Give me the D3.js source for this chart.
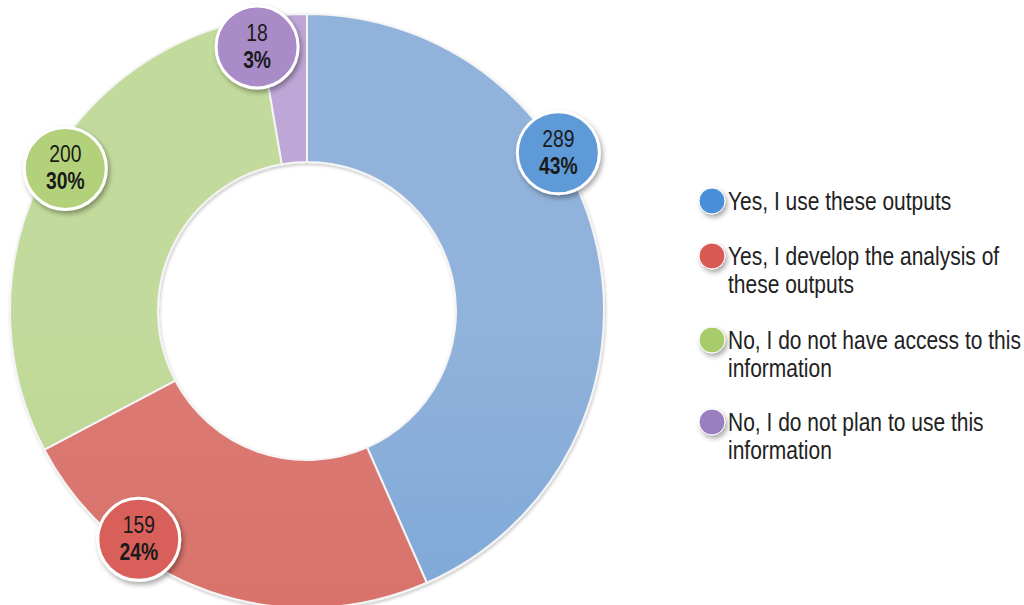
<!DOCTYPE html>
<html>
<head>
<meta charset="utf-8">
<script src="https://cdn.jsdelivr.net/npm/d3@7"></script>
<style>
  body { margin: 0; background: #fff; }
  text { font-family: "Liberation Sans", Arial, sans-serif; }
</style>
</head>
<body>
<div class="chart"></div>
<script>
const categories = [
    "Yes, I use these outputs",
    "Yes, I develop the analysis of these outputs",
    "No, I do not have access to this information",
    "No, I do not plan to use this information"
];
const legendLines = [
    ["Yes, I use these outputs"],
    ["Yes, I develop the analysis of", "these outputs"],
    ["No, I do not have access to this", "information"],
    ["No, I do not plan to use this", "information"]
];
const counts = [289, 159, 200, 18];
const percents = ["43%", "24%", "30%", "3%"];

const colors = ["#5f9ad8", "#d9605a", "#b3d17a", "#a98bc7"];
const sliceTop = ["#91b2da", "#dc7b74", "#c2da9b", "#bea6d6"];
const sliceBottom = ["#6a9fd8", "#d46961", "#b3d085", "#b39ad0"];
const legendColors = ["#4a8fd8", "#d95a55", "#a9cc6a", "#9a7fc0"];
// where each bubble sits along its slice (fraction of slice, fraction of outer radius)
const bubbleAt = [[0.37, 1.0], [0.70, 0.955], [0.54, 0.945], [-0.1, 0.905]];

const width = 1024, height = 605;
const cx = 307, cy = 311, outerR = 297, innerR = 149;
const narrow = 0.84;

const svg = d3.select(".chart").append("svg")
    .attr("width", width)
    .attr("height", height);

const defs = svg.append("defs");

const shadow = defs.append("filter").attr("id", "shadow")
    .attr("x", "-30%").attr("y", "-30%").attr("width", "160%").attr("height", "160%");
shadow.append("feDropShadow")
    .attr("dx", 2).attr("dy", 3).attr("stdDeviation", 2.5)
    .attr("flood-color", "#000").attr("flood-opacity", 0.35);

const edge = defs.append("filter").attr("id", "edge")
    .attr("x", "-5%").attr("y", "-5%").attr("width", "110%").attr("height", "110%");
edge.append("feDropShadow")
    .attr("dx", 1).attr("dy", 2).attr("stdDeviation", 1.5)
    .attr("flood-color", "#000").attr("flood-opacity", 0.2);

colors.forEach((c, i) => {
    const g = defs.append("linearGradient").attr("id", "grad" + i)
        .attr("gradientUnits", "userSpaceOnUse")
        .attr("x1", 0).attr("y1", cy - outerR).attr("x2", 0).attr("y2", cy + outerR);
    g.append("stop").attr("offset", "0%").attr("stop-color", sliceTop[i]);
    g.append("stop").attr("offset", "100%").attr("stop-color", sliceBottom[i]);
});

const pie = d3.pie().sort(null).value(d => d);
const arcs = pie(counts);

const arc = d3.arc().innerRadius(innerR).outerRadius(outerR);

const donut = svg.append("g")
    .attr("transform", "translate(" + cx + "," + cy + ")")
    .attr("filter", "url(#edge)");

donut.selectAll("path")
    .data(arcs)
    .join("path")
    .attr("d", arc)
    .attr("fill", (d, i) => "url(#grad" + i + ")")
    .attr("stroke", "#f4f4f4")
    .attr("stroke-width", 2);

// value bubbles
const bubbles = svg.append("g")
    .attr("transform", "translate(" + cx + "," + cy + ")")
    .selectAll("g")
    .data(arcs)
    .join("g")
    .attr("transform", (d, i) => {
        const a = d.startAngle + (d.endAngle - d.startAngle) * bubbleAt[i][0];
        const r = outerR * bubbleAt[i][1];
        return "translate(" + (r * Math.sin(a)) + "," + (-r * Math.cos(a)) + ")";
    });

bubbles.append("circle")
    .attr("r", 41)
    .attr("fill", (d, i) => colors[i])
    .attr("stroke", "#fff")
    .attr("stroke-width", 3)
    .attr("filter", "url(#shadow)");

bubbles.append("text")
    .attr("text-anchor", "middle")
    .attr("transform", "translate(0,-6) scale(" + narrow + ",1)")
    .attr("font-size", 23)
    .attr("fill", "#1a1a1a")
    .text((d, i) => counts[i]);

bubbles.append("text")
    .attr("text-anchor", "middle")
    .attr("transform", "translate(0,21) scale(" + narrow + ",1)")
    .attr("font-size", 23)
    .attr("font-weight", "bold")
    .attr("fill", "#1a1a1a")
    .text((d, i) => percents[i]);

// legend
const legendStep = [201, 256, 340, 422];

const legend = svg.append("g")
    .selectAll("g")
    .data(categories)
    .join("g")
    .attr("transform", (d, i) => "translate(712," + legendStep[i] + ")");

legend.append("circle")
    .attr("r", 13)
    .attr("fill", (d, i) => legendColors[i])
    .attr("stroke", "#fff")
    .attr("stroke-width", 1)
    .attr("filter", "url(#shadow)");

legend.append("text")
    .attr("transform", "translate(16,9) scale(" + narrow + ",1)")
    .attr("font-size", 25)
    .attr("fill", "#222")
    .selectAll("tspan")
    .data((d, i) => legendLines[i])
    .join("tspan")
    .attr("x", 0)
    .attr("dy", (d, j) => j === 0 ? 0 : 28)
    .text(d => d);
</script>
</body>
</html>
